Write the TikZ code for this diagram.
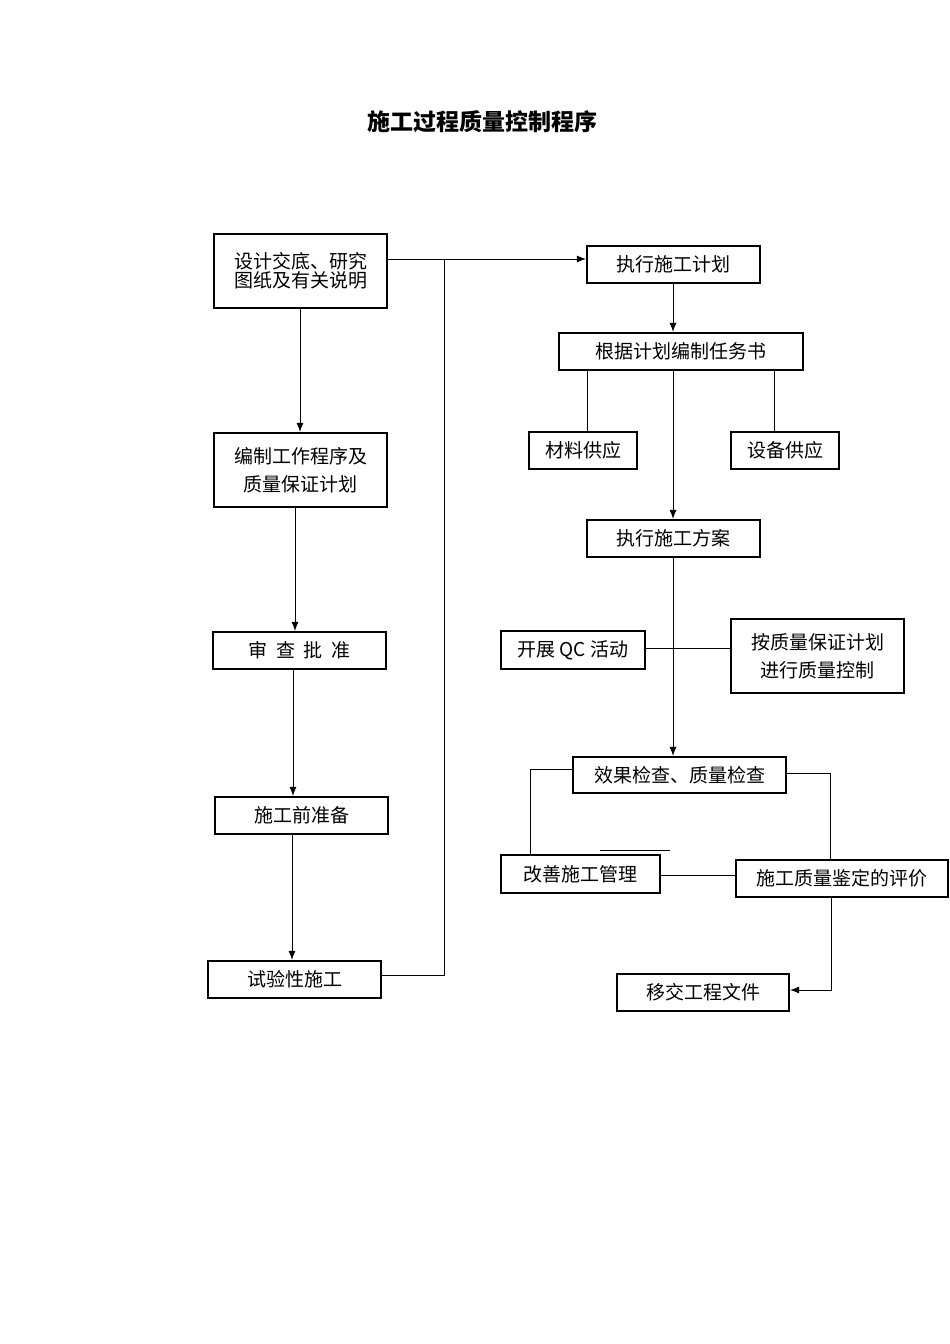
\documentclass[tikz,border=0pt]{standalone}
\usepackage{fontspec}
\setmainfont{Noto Sans CJK SC}
\usetikzlibrary{arrows.meta}
\begin{document}
\begin{tikzpicture}[x=1pt,y=-1pt,
  bx/.style={draw,line width=2.2pt,inner sep=0pt,font=\fontsize{19}{22}\selectfont,align=center},
  ln/.style={line width=0.9pt},
  ar/.style={ln,-{Latex[length=9pt,width=7pt]}}]
\useasboundingbox (0,0) rectangle (950,1344);
\node[font=\bfseries\fontsize{23}{26}\selectfont] (t) at (482,122) {施工过程质量控制程序};
\newcommand\bxx[6]{\node[bx,minimum width=#4-#2,minimum height=#5-#3] (#1) at ({(#2+#4)/2},{(#3+#5)/2}) {#6};}
\bxx{A}{214}{234}{387}{308}{设计交底、研究\\[-3pt]图纸及有关说明}
\bxx{B}{214}{433}{387}{507}{编制工作程序及\\[6pt]质量保证计划}
\bxx{C}{213}{632}{386}{669}{审\ \ 查\ \ 批\ \ 准}
\bxx{D}{215}{797}{388}{834}{施工前准备}
\bxx{E}{208}{961}{381}{998}{试验性施工}
\bxx{F}{587}{246}{760}{283}{执行施工计划}
\bxx{G}{559}{333}{803}{370}{根据计划编制任务书}
\bxx{H}{529}{432}{637}{469}{材料供应}
\bxx{I}{731}{432}{839}{469}{设备供应}
\bxx{J}{587}{520}{760}{557}{执行施工方案}
\bxx{K}{501}{631}{645}{669}{开展 QC 活动}
\bxx{L}{731}{619}{904}{693}{按质量保证计划\\[6pt]进行质量控制}
\bxx{M}{573}{757}{786}{793}{效果检查、质量检查}
\bxx{N}{501}{855}{660}{893}{改善施工管理}
\bxx{O}{736}{860}{948}{897}{施工质量鉴定的评价}
\bxx{P}{617}{974}{789}{1011}{移交工程文件}
\coordinate (j1) at (444,259);
\draw[ar] (A.east|-j1) -- (F.west|-j1);
\draw[ln] (j1) -- (444,975) -- (E.east|-{(0,975)});
\draw[ar] (A.south-|{(300,0)}) -- (B.north-|{(300,0)});
\draw[ar] (B.south-|{(295,0)}) -- (C.north-|{(295,0)});
\draw[ar] (C.south-|{(293,0)}) -- (D.north-|{(293,0)});
\draw[ar] (D.south-|{(292,0)}) -- (E.north-|{(292,0)});
\draw[ar] (F.south-|{(673,0)}) -- (G.north-|{(673,0)});
\draw[ln] (G.south-|{(587,0)}) -- (H.north-|{(587,0)});
\draw[ln] (G.south-|{(774,0)}) -- (I.north-|{(774,0)});
\draw[ar] (G.south-|{(673,0)}) -- (J.north-|{(673,0)});
\draw[ar] (J.south-|{(673,0)}) -- (M.north-|{(673,0)});
\draw[ln] (K.east|-{(0,648)}) -- (L.west|-{(0,648)});
\draw[ln] (M.west|-{(0,769)}) -- (530,769) -- (N.north-|{(530,0)});
\draw[ln] (M.east|-{(0,773)}) -- (830,773) -- (O.north-|{(830,0)});
\draw[ln] (N.east|-{(0,875)}) -- (O.west|-{(0,875)});
\coordinate (s1) at (600,850); \coordinate (s2) at (670,850);
\draw[ln] (s1) -- (s2);
\draw[ar] (O.south-|{(831,0)}) -- (831,990) -- (P.east|-{(0,990)});
\end{tikzpicture}
\end{document}
